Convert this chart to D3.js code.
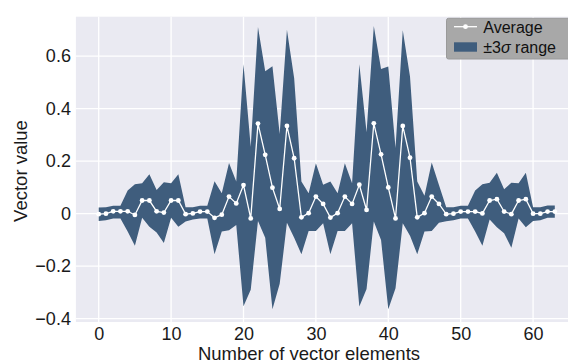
<!DOCTYPE html>
<html><head><meta charset="utf-8">
<script src="https://cdn.jsdelivr.net/npm/d3@7"></script>
<style>body{margin:0;background:#fff}svg{display:block}</style>
</head><body>
<svg id="c" width="568" height="363"></svg>
<script>
const average = [-0.002,0.000,0.009,0.009,0.009,-0.005,0.050,0.050,0.009,0.004,0.050,0.050,-0.002,0.001,0.008,0.008,
 -0.016,-0.004,0.065,0.039,0.109,-0.018,0.343,0.224,0.099,0.018,0.334,0.211,-0.014,0.002,0.065,0.037,
 -0.015,0.002,0.065,0.037,0.110,0.014,0.344,0.226,0.100,-0.018,0.334,0.213,-0.014,0.002,0.065,0.037,
 -0.002,0.000,0.008,0.008,0.008,0.001,0.050,0.055,0.008,-0.002,0.050,0.055,0.000,0.000,0.008,0.008];
const upper = [0.023,0.024,0.030,0.030,0.088,0.112,0.116,0.150,0.090,0.120,0.116,0.150,0.024,0.024,0.030,0.030,
 0.123,0.078,0.193,0.122,0.569,0.255,0.711,0.542,0.561,0.303,0.700,0.516,0.122,0.078,0.192,0.110,
 0.122,0.078,0.192,0.116,0.569,0.310,0.715,0.551,0.560,0.250,0.698,0.522,0.122,0.068,0.195,0.109,
 0.024,0.024,0.030,0.030,0.088,0.112,0.118,0.156,0.093,0.118,0.116,0.156,0.024,0.024,0.031,0.031];
const lower = [-0.028,-0.025,-0.018,-0.018,-0.068,-0.122,-0.016,-0.050,-0.072,-0.112,-0.016,-0.050,-0.030,-0.022,-0.018,-0.018,
 -0.155,-0.068,-0.063,-0.043,-0.353,-0.290,-0.028,-0.092,-0.364,-0.267,-0.035,-0.092,-0.155,-0.066,-0.066,-0.037,
 -0.155,-0.066,-0.066,-0.037,-0.354,-0.287,-0.030,-0.100,-0.364,-0.284,-0.037,-0.084,-0.155,-0.068,-0.066,-0.035,
 -0.029,-0.025,-0.018,-0.018,-0.068,-0.122,-0.022,-0.052,-0.075,-0.130,-0.018,-0.052,-0.028,-0.025,-0.016,-0.016];
const elementIndex = d3.range(average.length);
const xTicks = [0,10,20,30,40,50,60];
const yTicks = [-0.4,-0.2,0,0.2,0.4,0.6];
const yTickLabels = ["\u22120.4","\u22120.2","0","0.2","0.4","0.6"];
const legendLabels = ["Average","\u00b13\u03c3 range"];

const svg = d3.select("#c");
const L = 75.9, R = 577.6, T = 16.7, B = 322;
const x = d3.scaleLinear().domain([-3.15, 66.15]).range([L, R]);
const y = d3.scaleLinear().domain([-0.4126, 0.75]).range([B, T]);
const font = "'Liberation Sans', Arial, sans-serif";
const bandColor = "#3f5d7d";

svg.append("rect").attr("x", L).attr("y", T).attr("width", R - L).attr("height", B - T).attr("fill", "#eaeaf2");
svg.append("clipPath").attr("id","clip").append("rect").attr("x", L).attr("y", T).attr("width", R - L).attr("height", B - T);

// grid
const g = svg.append("g");
g.selectAll(".gx").data(xTicks).join("line").attr("x1", d => x(d)).attr("x2", d => x(d))
  .attr("y1", T).attr("y2", B).attr("stroke", "#fff").attr("stroke-width", 1.3);
g.selectAll(".gy").data(yTicks).join("line").attr("y1", d => y(d)).attr("y2", d => y(d))
  .attr("x1", L).attr("x2", R).attr("stroke", "#fff").attr("stroke-width", 1.3);

const plot = svg.append("g").attr("clip-path", "url(#clip)");
const area = d3.area().x(i => x(i)).y0(i => y(lower[i])).y1(i => y(upper[i]));
plot.append("path").datum(elementIndex).attr("d", area).attr("fill", bandColor);
const line = d3.line().x(i => x(i)).y(i => y(average[i]));
plot.append("path").datum(elementIndex).attr("d", line).attr("fill", "none").attr("stroke", "#fff").attr("stroke-width", 1.3);
plot.selectAll("circle").data(elementIndex).join("circle").attr("cx", i => x(i)).attr("cy", i => y(average[i]))
  .attr("r", 2.4).attr("fill", "#fff");

// axes
const ax = svg.append("g").attr("transform", `translate(0,${B})`)
  .call(d3.axisBottom(x).tickValues(xTicks).tickSize(0).tickPadding(5).tickFormat(d3.format("d")));
const ay = svg.append("g").attr("transform", `translate(${L},0)`)
  .call(d3.axisLeft(y).tickValues(yTicks).tickSize(0).tickPadding(5).tickFormat((d, i) => yTickLabels[i]));
[ax, ay].forEach(a => {
  a.select(".domain").remove();
  a.selectAll("text").attr("font-family", font).attr("font-size", 18).attr("fill", "#1a1a1a");
});

svg.append("text").attr("x", 309).attr("y", 360).attr("text-anchor", "middle")
  .attr("font-family", font).attr("font-size", 18.5).attr("fill", "#1a1a1a").text("Number of vector elements");
svg.append("text").attr("transform", "translate(27,171) rotate(-90)").attr("text-anchor", "middle")
  .attr("font-family", font).attr("font-size", 18.5).attr("fill", "#1a1a1a").text("Vector value");

// legend
const lg = svg.append("g");
lg.append("rect").attr("x", 446.5).attr("y", 18.3).attr("width", 125).attr("height", 40.7).attr("rx", 2)
  .attr("fill", "#a8a8a8").attr("stroke", "#9a9a9a").attr("stroke-width", 1);
lg.append("line").attr("x1", 454).attr("x2", 477).attr("y1", 26.7).attr("y2", 26.7).attr("stroke", "#fff").attr("stroke-width", 1.3);
lg.append("circle").attr("cx", 465.5).attr("cy", 26.7).attr("r", 2.4).attr("fill", "#fff");
lg.append("rect").attr("x", 454).attr("y", 42.3).attr("width", 23).attr("height", 9.4).attr("fill", bandColor);
lg.append("text").attr("x", 483.3).attr("y", 32.5).attr("font-family", font).attr("font-size", 16).attr("fill", "#111").text(legendLabels[0]);
const t2 = lg.append("text").attr("x", 483.3).attr("y", 52.5).attr("font-family", font).attr("font-size", 16).attr("fill", "#111");
t2.append("tspan").text("\u00b13");
t2.append("tspan").attr("font-style", "italic").text("\u03c3");
t2.append("tspan").text(" range");
</script>
</body></html>
